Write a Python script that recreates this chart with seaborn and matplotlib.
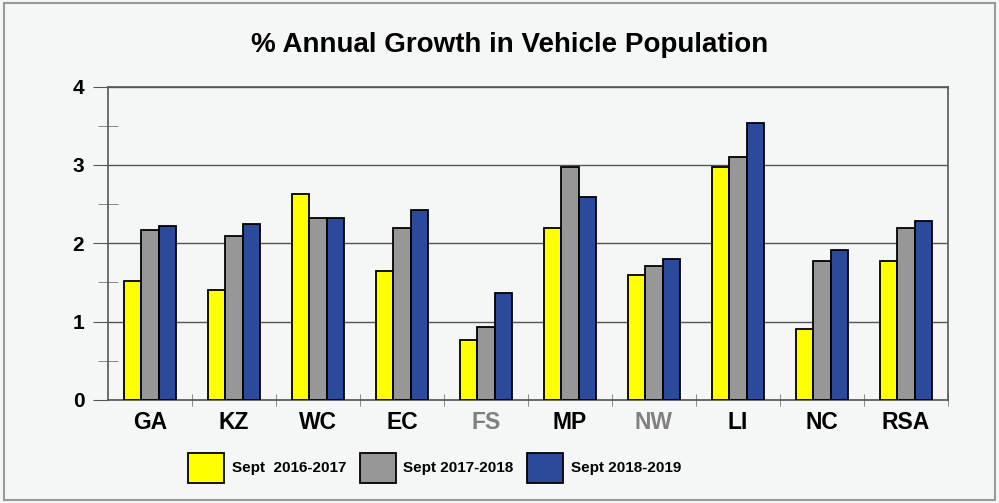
import pandas as pd
import matplotlib.pyplot as plt
import seaborn as sns
from matplotlib.patches import Rectangle
from matplotlib.ticker import MultipleLocator, FixedLocator

regions = ['GA', 'KZ', 'WC', 'EC', 'FS', 'MP', 'NW', 'LI', 'NC', 'RSA']
periods = ['Sept  2016-2017', 'Sept 2017-2018', 'Sept 2018-2019']
growth_1617 = [1.52, 1.40, 2.63, 1.65, 0.76, 2.19, 1.60, 2.97, 0.91, 1.77]
growth_1718 = [2.17, 2.09, 2.32, 2.19, 0.93, 2.97, 1.71, 3.10, 1.77, 2.20]
growth_1819 = [2.22, 2.25, 2.32, 2.43, 1.37, 2.59, 1.80, 3.54, 1.91, 2.28]
colours = ['#ffff00', '#979797', '#2b4a9c']

df = pd.DataFrame({
    'region': regions * 3,
    'period': [periods[0]] * 10 + [periods[1]] * 10 + [periods[2]] * 10,
    'growth': growth_1617 + growth_1718 + growth_1819,
})

bg = '#f4f7f6'
plt.rcParams['font.family'] = ['Liberation Sans', 'DejaVu Sans']
fig = plt.figure(figsize=(9.99, 5.03), dpi=100, facecolor=bg)
ax = fig.add_axes([0.108, 0.205, 0.841, 0.623], facecolor=bg)

sns.barplot(data=df, x='region', y='growth', hue='period', hue_order=periods,
            palette=colours, saturation=1, width=0.62, edgecolor='black',
            linewidth=1.3, gap=0, ax=ax, zorder=3)

ax.set_ylim(0, 4)
ax.set_xlim(-0.5, 9.5)
ax.set_xlabel('')
ax.set_ylabel('')
ax.yaxis.set_major_locator(MultipleLocator(1))
ax.yaxis.set_minor_locator(MultipleLocator(0.5))
ax.grid(axis='y', color='#555555', linewidth=1.0, zorder=0)
ax.set_axisbelow(True)

for s in ['left', 'bottom', 'right', 'top']:
    ax.spines[s].set_color('#555555')
    ax.spines[s].set_linewidth(1.2)

ax.tick_params(axis='y', which='major', length=11, direction='out', color='#555555',
               labelsize=15, pad=6)
ax.tick_params(axis='y', which='minor', length=14, direction='inout', color='#777777')
ax.xaxis.set_minor_locator(FixedLocator([i + 0.5 for i in range(10)]))
ax.tick_params(axis='x', which='major', length=0, labelsize=16.5, pad=8)
ax.tick_params(axis='x', which='minor', length=8, direction='inout', color='#777777')
for lab in ax.get_yticklabels() + ax.get_xticklabels():
    lab.set_fontweight('bold')
for lab in ax.get_xticklabels():
    if lab.get_text() in ('FS', 'NW'):
        lab.set_color('#808080')

ax.legend_.remove()
handles = [Rectangle((0, 0), 1, 1, facecolor=c, edgecolor='black', linewidth=1.3)
           for c in colours]
fig.legend(handles, periods, loc='center', bbox_to_anchor=(0.435, 0.07), ncol=3,
           frameon=False, prop={'weight': 'bold', 'size': 11},
           handlelength=2.35, handleheight=2.6, handletextpad=0.5, columnspacing=0.9)

fig.text(0.51, 0.91, '% Annual Growth in Vehicle Population', ha='center', va='center',
         fontsize=20, fontweight='bold')

fig.patches.append(Rectangle((0.004, 0.006), 0.992, 0.988, transform=fig.transFigure,
                             fill=False, edgecolor='#999999', linewidth=1.5))

fig.savefig('out.png', dpi=100, facecolor=bg)
